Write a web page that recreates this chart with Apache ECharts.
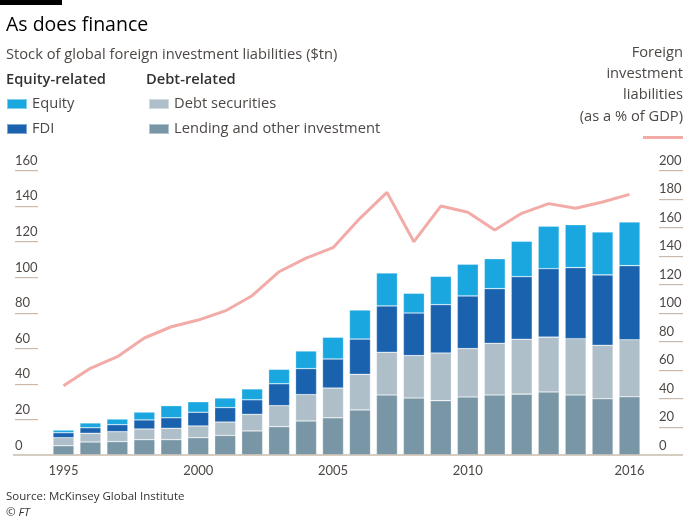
<!DOCTYPE html>
<html><head><meta charset="utf-8">
<script src="https://cdn.jsdelivr.net/npm/echarts@6/dist/echarts.min.js"></script>
<style>html,body{margin:0;padding:0;background:#fff}#c{width:700px;height:517px}</style>
</head><body><div id="c"></div>
<script>
var years = ['1995','1996','1997','1998','1999','2000','2001','2002','2003','2004','2005','2006','2007','2008','2009','2010','2011','2012','2013','2014','2015','2016'];
var lending = [5.2,7.3,7.5,8.6,8.6,9.7,11.0,13.5,15.9,19.1,20.9,25.3,33.7,32.0,30.5,32.6,33.7,34.2,35.4,33.7,31.6,32.7];
var debtSec = [4.5,4.9,5.6,6.0,6.4,6.6,7.5,9.3,11.8,14.8,16.7,20.0,24.0,23.8,26.8,27.1,29.0,30.8,30.8,31.6,30.0,32.0];
var fdi = [2.8,3.1,3.9,5.1,5.9,7.7,8.1,8.2,12.3,14.6,16.3,19.8,26.0,23.9,27.1,29.6,30.7,35.1,38.4,39.9,39.5,41.6];
var equity = [1.5,2.7,3.2,4.4,6.8,5.9,5.4,6.1,8.1,9.9,12.2,16.3,18.5,11.1,15.9,17.8,16.8,19.9,23.8,24.1,24.1,24.5];
var gdpPct = [48.6,60.8,69.0,82.1,90.0,94.7,101.1,111.8,128.6,138.2,145.5,166.1,184.3,149.7,174.7,170.3,157.9,169.6,176.4,173.1,177.5,182.9];
var shownYears = ['1995','2000','2005','2010','2016'];
var leftTicks = [20,40,60,80,100,120,140,160];
var rightTicks = [20,40,60,80,100,120,140,160,180,200];

var FONT = 'Open Sans';
var NUMFONT = 'Lato';
var TXT = '#4d4845';
var FS = 14.7;
var TICKC = '#cdb9aa';
var chart = echarts.init(document.getElementById('c'));
var barBorder = {borderColor:'rgba(255,255,255,0.45)', borderWidth:0.6};
function bar(name, data, color){
  return {name:name, type:'bar', stack:'s', data:data, barWidth:21,
    itemStyle:Object.assign({color:color}, barBorder), emphasis:{disabled:true}};
}
var g = [
  {type:'rect', left:0, top:0, shape:{width:62, height:5}, style:{fill:'#000'}},
  {type:'text', x:683, y:42, style:{text:'Foreign\ninvestment\nliabilities\n(as a % of GDP)', align:'right', verticalAlign:'top',
    font:FS + 'px "Open Sans"', fill:TXT, lineHeight:21.3}}
];
var gridTop = 170, gridH = 285;
leftTicks.forEach(function(v){
  var y = Math.round(gridTop + gridH * (1 - v / 160));
  g.push({type:'rect', shape:{x:15, y:y, width:23, height:1.2}, style:{fill:TICKC}, z:100});
});
rightTicks.forEach(function(v){
  var y = Math.round(gridTop + gridH * (1 - v / 200));
  g.push({type:'rect', shape:{x:659, y:y, width:24, height:1.2}, style:{fill:TICKC}, z:100});
});
g.push({type:'rect', shape:{x:13, y:gridTop + gridH - 0.75, width:670, height:1.5}, style:{fill:'#c9bcae'}, z:100});

chart.setOption({
  animation:false,
  textStyle:{fontFamily:FONT},
  title:[
    {text:'As does finance', left:1, top:10, textStyle:{fontFamily:FONT, fontSize:19.5, fontWeight:'normal', color:'#000'}},
    {text:'Stock of global foreign investment liabilities ($tn)', left:1, top:42, textStyle:{fontFamily:FONT, fontSize:FS, fontWeight:'normal', color:TXT}},
    {text:'Equity-related', left:1, top:67, textStyle:{fontFamily:FONT, fontSize:FS, fontWeight:600, color:'#333'}},
    {text:'Debt-related', left:141, top:67, textStyle:{fontFamily:FONT, fontSize:FS, fontWeight:600, color:'#333'}},
    {text:'Source: McKinsey Global Institute', left:1, top:486, textStyle:{fontFamily:FONT, fontSize:11.5, fontWeight:'normal', color:'#333'}},
    {text:'© FT', left:1, top:502, textStyle:{fontFamily:FONT, fontSize:11.5, fontWeight:'normal', fontStyle:'italic', color:'#333'}}
  ],
  legend:[
    {data:['Equity','FDI'], orient:'vertical', left:6, top:96, padding:0, itemWidth:20, itemHeight:10, itemGap:9, icon:'rect', selectedMode:false,
     textStyle:{fontFamily:FONT, fontSize:FS, color:TXT, lineHeight:16}},
    {data:['Debt securities','Lending and other investment'], orient:'vertical', left:148, top:96, padding:0, itemWidth:20, itemHeight:10, itemGap:9, icon:'rect', selectedMode:false,
     textStyle:{fontFamily:FONT, fontSize:FS, color:TXT, lineHeight:16}},
    {data:[{name:'Foreign investment liabilities (as a % of GDP)', icon:'rect'}], right:17, top:136, padding:0, itemWidth:40, itemHeight:3, selectedMode:false,
     formatter:function(){return '';}, textStyle:{fontSize:1}}
  ],
  grid:{left:50, right:57, top:gridTop, height:gridH, containLabel:false},
  xAxis:{type:'category', data:years,
    axisLine:{show:false}, axisTick:{show:false},
    axisLabel:{color:TXT, fontFamily:NUMFONT, fontSize:13, margin:9,
      interval:function(i, v){return shownYears.indexOf(v) >= 0;}}},
  yAxis:[
    {type:'value', min:0, max:160, interval:20, position:'left', offset:12,
     axisLine:{show:false}, splitLine:{show:false}, axisTick:{show:false},
     axisLabel:{align:'left', margin:23, verticalAlign:'bottom', padding:[0,0,3,0], color:TXT, fontFamily:NUMFONT, fontSize:13}},
    {type:'value', min:0, max:200, interval:20, position:'right', offset:16,
     axisLine:{show:false}, splitLine:{show:false}, axisTick:{show:false},
     axisLabel:{align:'left', margin:0, verticalAlign:'bottom', padding:[0,0,3,0], color:TXT, fontFamily:NUMFONT, fontSize:13}}
  ],
  graphic:{elements:g},
  series:[
    bar('Lending and other investment', lending, '#7896a6'),
    bar('Debt securities', debtSec, '#aebfc9'),
    bar('FDI', fdi, '#1a62ae'),
    bar('Equity', equity, '#1aa7df'),
    {name:'Foreign investment liabilities (as a % of GDP)', type:'line', yAxisIndex:1, data:gdpPct,
     symbol:'none', lineStyle:{color:'#f2aba7', width:3}, itemStyle:{color:'#f2aba7'}, z:5, emphasis:{disabled:true}}
  ]
});
</script></body></html>
